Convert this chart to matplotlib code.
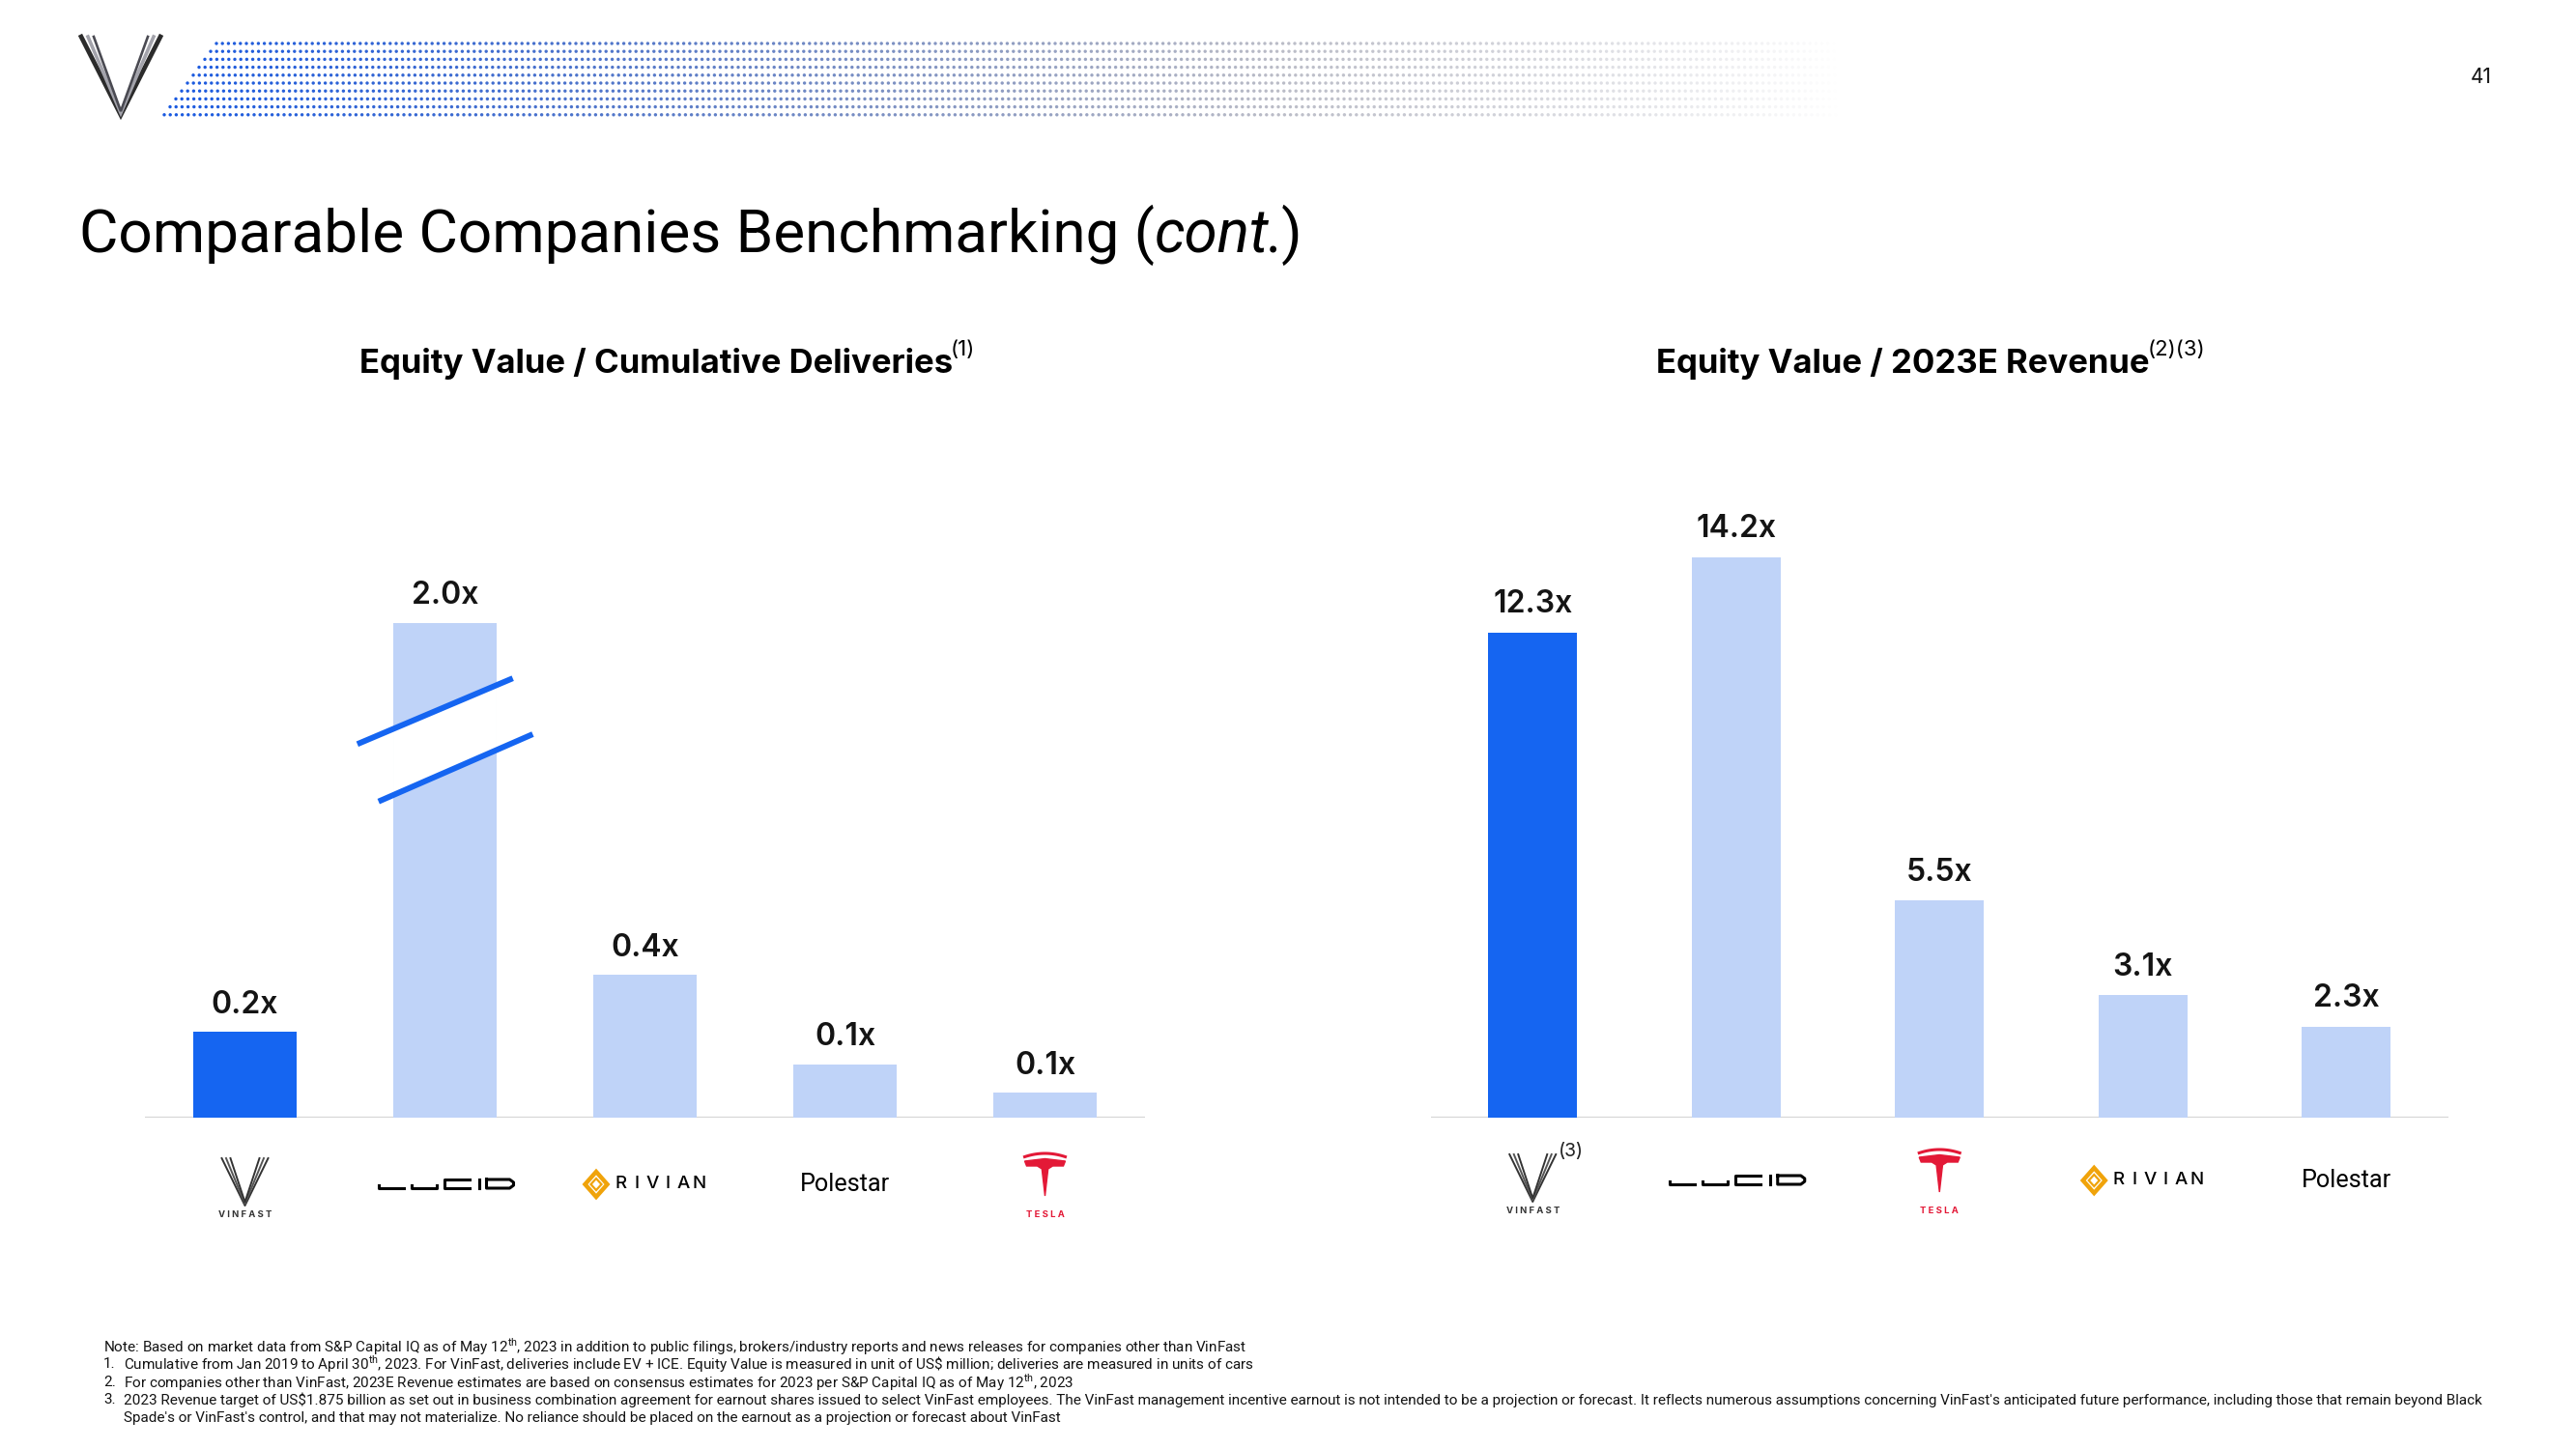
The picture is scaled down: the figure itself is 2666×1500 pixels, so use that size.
import numpy as np
import matplotlib
matplotlib.use("Agg")
import matplotlib.pyplot as plt
from matplotlib.patches import Polygon

# --- data -------------------------------------------------------------------
left_companies = ["VinFast", "Lucid", "Rivian", "Polestar", "Tesla"]
left_values = [0.24, 2.0, 0.40, 0.15, 0.07]   # equity value / cumulative deliveries
left_labels = ["0.2x", "2.0x", "0.4x", "0.1x", "0.1x"]
left_cap = 1.385                                # Lucid bar is drawn broken at this height

right_companies = ["VinFast", "Lucid", "Tesla", "Rivian", "Polestar"]
right_values = [12.3, 14.2, 5.5, 3.1, 2.3]    # equity value / 2023E revenue
right_labels = ["12.3x", "14.2x", "5.5x", "3.1x", "2.3x"]

title = "Comparable Companies Benchmarking ("
title_italic = "cont."
left_title = "Equity Value / Cumulative Deliveries"
left_title_sup = "(1)"
right_title = "Equity Value / 2023E Revenue"
right_title_sup = "(2)(3)"
page_no = "41"

notes = [
    ("", r"Note: Based on market data from S&P Capital IQ as of May 12$^{\mathrm{th}}$, 2023 in addition to public filings, brokers/industry reports and news releases for companies other than VinFast"),
    ("1.", r"Cumulative from Jan 2019 to April 30$^{\mathrm{th}}$, 2023. For VinFast, deliveries include EV + ICE. Equity Value is measured in unit of US\$ million; deliveries are measured in units of cars"),
    ("2.", r"For companies other than VinFast, 2023E Revenue estimates are based on consensus estimates for 2023 per S&P Capital IQ as of May 12$^{\mathrm{th}}$, 2023"),
    ("3.", "2023 Revenue target of US$1.875 billion as set out in business combination agreement for earnout shares issued to select VinFast employees. The VinFast management incentive earnout is not intended to be a projection or forecast. It reflects numerous assumptions concerning VinFast's anticipated future performance, including those that remain beyond Black"),
    ("", "Spade's or VinFast's control, and that may not materialize. No reliance should be placed on the earnout as a projection or forecast about VinFast"),
]

BLUE = "#1565F1"
LIGHT = "#BFD3F8"
TEXT = "#141414"
NARROW = ["Roboto", "DejaVu Sans"]

plt.rcParams["font.family"] = ["Inter", "DejaVu Sans"]
plt.rcParams["mathtext.fontset"] = "custom"
plt.rcParams["mathtext.rm"] = "Roboto"

W, H = 2666, 1500
fig = plt.figure(figsize=(W / 100, H / 100), dpi=100)
fig.patch.set_facecolor("white")
renderer = fig.canvas.get_renderer()

# overlay in pixel coordinates (origin bottom-left) for decorations
deco = fig.add_axes([0, 0, 1, 1], zorder=0)
deco.set_xlim(0, W)
deco.set_ylim(0, H)
deco.axis("off")


def py(y):
    # convert top-based pixel y to overlay y
    return H - y


def fit(t, target):
    w = t.get_window_extent(renderer).width
    t.set_fontsize(t.get_fontsize() * target / w)
    return t


# --- header: logo + dotted band ----------------------------------------------
for off, col, lw in [(0, "#2b2b2b", 3.4), (7, "#a3a3ab", 2.6), (13, "#4a4a52", 1.9)]:
    deco.plot([84 + off, 125, 166 - off], [py(38), py(119 - off * 0.3), py(38)],
              color=col, lw=lw, solid_joinstyle="miter", zorder=3)

for r in range(10):
    yy = 45 + r * 8.2
    x0 = 224 - r * 6.0
    xs = np.arange(x0, 1905, 6.2)
    t = (xs - 170) / (1905 - 170)
    mix = np.clip(t * 1.5, 0, 1)[:, None]
    rgb = (1 - mix) * np.array([0.10, 0.35, 0.88]) + mix * np.array([0.55, 0.56, 0.63])
    alpha = np.clip(1 - t ** 2.2, 0, 1)
    cols = np.column_stack([rgb, alpha])
    deco.scatter(xs, np.full_like(xs, py(yy)), s=6, c=cols, marker="o", linewidths=0)

fig.text(2568 / W, 1 - 80 / H, page_no, fontsize=15, color=TEXT, ha="center", va="center")

# --- title -------------------------------------------------------------------------
def draw_title(size):
    parts = []
    x = 82
    for s, st in [(title, "normal"), (title_italic, "italic"), (")", "normal")]:
        t = fig.text(x / W, 1 - 261 / H, s, fontsize=size, color="black",
                     family=NARROW, style=st, va="baseline")
        x = t.get_window_extent(renderer).x1 - (4 if st == "italic" else 0)
        parts.append(t)
    return parts, x - 82


parts, width = draw_title(56)
for p in parts:
    p.remove()
draw_title(56 * 1265 / width)


def chart_title(x0, text, sup):
    t = fig.text(x0 / W, 1 - 386 / H, text, fontsize=25, fontweight="bold",
                 color="black", va="baseline")
    b = t.get_window_extent(renderer)
    fig.text((b.x1 - 2) / W, 1 - 368 / H, sup, fontsize=16, color="black",
             va="baseline")


chart_title(372, left_title, left_title_sup)
chart_title(1714, right_title, right_title_sup)

# --- bar charts ------------------------------------------------------------
base_y = (H - 1157) / H
ax_h = 700 / H
axL = fig.add_axes([150 / W, base_y, 1035 / W, ax_h], zorder=2)
axR = fig.add_axes([1481 / W, base_y, 1052.5 / W, ax_h], zorder=2)

for ax, ymax in [(axL, 700 * 0.002704), (axR, 700 * 0.02449)]:
    ax.set_xlim(-0.5, 4.5)
    ax.set_ylim(0, ymax)
    ax.axis("off")
    ax.axhline(0, color="#d6d6d6", lw=1.6, zorder=1)

xL = np.arange(len(left_values))
hL = np.minimum(left_values, left_cap)
colL = [BLUE] + [LIGHT] * (len(left_values) - 1)
axL.bar(xL, hL, width=0.515, color=colL, zorder=2)
for x, h, lab in zip(xL, hL, left_labels):
    axL.annotate(lab, (x, h), xytext=(0, 14), textcoords="offset points",
                 ha="center", va="baseline", fontsize=23, fontweight="semibold", color=TEXT)

# break marks on the truncated bar
brk = int(np.argmax(left_values))
lines = [(-0.438, 0.755, 0.339, 0.888), (-0.332, 0.639, 0.439, 0.775)]
for dx0, y0, dx1, y1 in lines:
    axL.plot([brk + dx0, brk + dx1], [y0 * left_cap, y1 * left_cap], color=BLUE, lw=4.3,
             solid_capstyle="butt", zorder=4)


def line_y(ln, dx):
    dx0, y0, dx1, y1 = ln
    return (y0 + (dx - dx0) / (dx1 - dx0) * (y1 - y0)) * left_cap


hw = 0.2575
axL.add_patch(Polygon([[brk - hw, line_y(lines[0], -hw)], [brk + hw, line_y(lines[0], hw)],
                       [brk + hw, line_y(lines[1], hw)], [brk - hw, line_y(lines[1], -hw)]],
                      closed=True, color="white", zorder=3))

xR = np.arange(len(right_values))
colR = [BLUE] + [LIGHT] * (len(right_values) - 1)
axR.bar(xR, right_values, width=0.436, color=colR, zorder=2)
for x, h, lab in zip(xR, right_values, right_labels):
    axR.annotate(lab, (x, h), xytext=(0, 15), textcoords="offset points",
                 ha="center", va="baseline", fontsize=23, fontweight="semibold", color=TEXT)


# --- company logos -------------------------------------------------------------
def logo(name, cx, top):
    # top: pixel y (from top) of the logo row centre
    if name == "VinFast":
        for k, col in enumerate(["#333333", "#555555", "#333333"]):
            o = k * 4.5
            deco.plot([cx - 24 + o, cx, cx + 24 - o], [py(top - 27), py(top + 22 - o * 0.4), py(top - 27)],
                      color=col, lw=1.4, zorder=3)
        fig.text(cx / W, 1 - (top + 32) / H, "V I N F A S T", fontsize=6.8,
                 fontweight="bold", color="#333333", ha="center", va="center")
    elif name == "Lucid":
        lw = 2.2
        x = cx - 69
        t, b = py(top - 5), py(top + 4)
        m = py(top + 1)
        deco.plot([x, x, x + 26], [m, b, b], color="black", lw=lw, zorder=3)
        x += 34
        deco.plot([x, x, x + 26, x + 26], [m, b, b, m], color="black", lw=lw, zorder=3)
        x += 34
        deco.plot([x + 26, x, x, x + 26], [t, t, b, b], color="black", lw=lw, zorder=3)
        x += 36
        deco.plot([x, x], [t, b], color="black", lw=lw, zorder=3)
        x += 8
        deco.plot([x, x, x + 24, x + 28, x + 28, x + 24, x],
                  [t, b, b, b + 3, t - 3, t, t], color="black", lw=lw, zorder=3)
    elif name == "Rivian":
        dx = cx - 62
        gold = "#F0A30A"
        deco.add_patch(Polygon([[dx, py(top)], [dx + 11.5, py(top - 13)],
                                [dx + 23, py(top)], [dx + 11.5, py(top + 13)]],
                               closed=True, fill=False, ec=gold, lw=3.2, zorder=3))
        deco.add_patch(Polygon([[dx + 6, py(top)], [dx + 11.5, py(top - 6)],
                                [dx + 17, py(top)], [dx + 11.5, py(top + 6)]],
                               closed=True, fill=False, ec=gold, lw=1.6, zorder=3))
        for i, ch in enumerate("RIVIAN"):
            fig.text((dx + 37 + i * 16.2) / W, 1 - top / H, ch, fontsize=13.5,
                     fontweight="medium", color="black", ha="center", va="center")
    elif name == "Polestar":
        t = fig.text(cx / W, 1 - top / H, "Polestar", fontsize=20, family=NARROW,
                     color="black", ha="center", va="center")
        fit(t, 93)
    elif name == "Tesla":
        red = "#E31937"
        y0 = top - 32
        deco.plot(np.linspace(cx - 21, cx + 21, 30),
                  py(y0 + 3.5 * (np.linspace(-1, 1, 30) ** 2)), color=red, lw=2.2, zorder=3)
        head = [(-21, 8), (0, 5.5), (21, 8), (19, 13), (8, 13), (3.2, 16),
                (0, 44), (-3.2, 16), (-8, 13), (-19, 13)]
        deco.add_patch(Polygon([[cx + a, py(y0 + b)] for a, b in head], closed=True,
                               color=red, zorder=3))
        fig.text(cx / W, 1 - (top + 32) / H, "T E S L A", fontsize=6.8, fontweight="bold",
                 color=red, ha="center", va="center")


for ax, names, row in [(axL, left_companies, 1226), (axR, right_companies, 1222)]:
    for i, n in enumerate(names):
        cx = ax.transData.transform((i, 0))[0]
        logo(n, cx, row)

cxv = axR.transData.transform((0, 0))[0]
fig.text((cxv + 40) / W, 1 - 1192 / H, "(3)", fontsize=14, color="#222222",
         ha="center", va="center")

# --- footnotes -------------------------------------------------------------------
probe = fig.text(0, 0, notes[3][1], fontsize=12, family=NARROW)
note_size = 12 * 2448 / probe.get_window_extent(renderer).width
probe.remove()
for k, (num, line) in enumerate(notes):
    y = 1 - (1394 + k * 18.4) / H
    if num:
        fig.text(107 / W, y, num, fontsize=note_size, family=NARROW, color=TEXT, va="center")
    x = 107 if (k == 0) else 128
    fig.text(x / W, y, line, fontsize=note_size, family=NARROW, color=TEXT, va="center")

fig.savefig("out.png", dpi=100, facecolor="white")
